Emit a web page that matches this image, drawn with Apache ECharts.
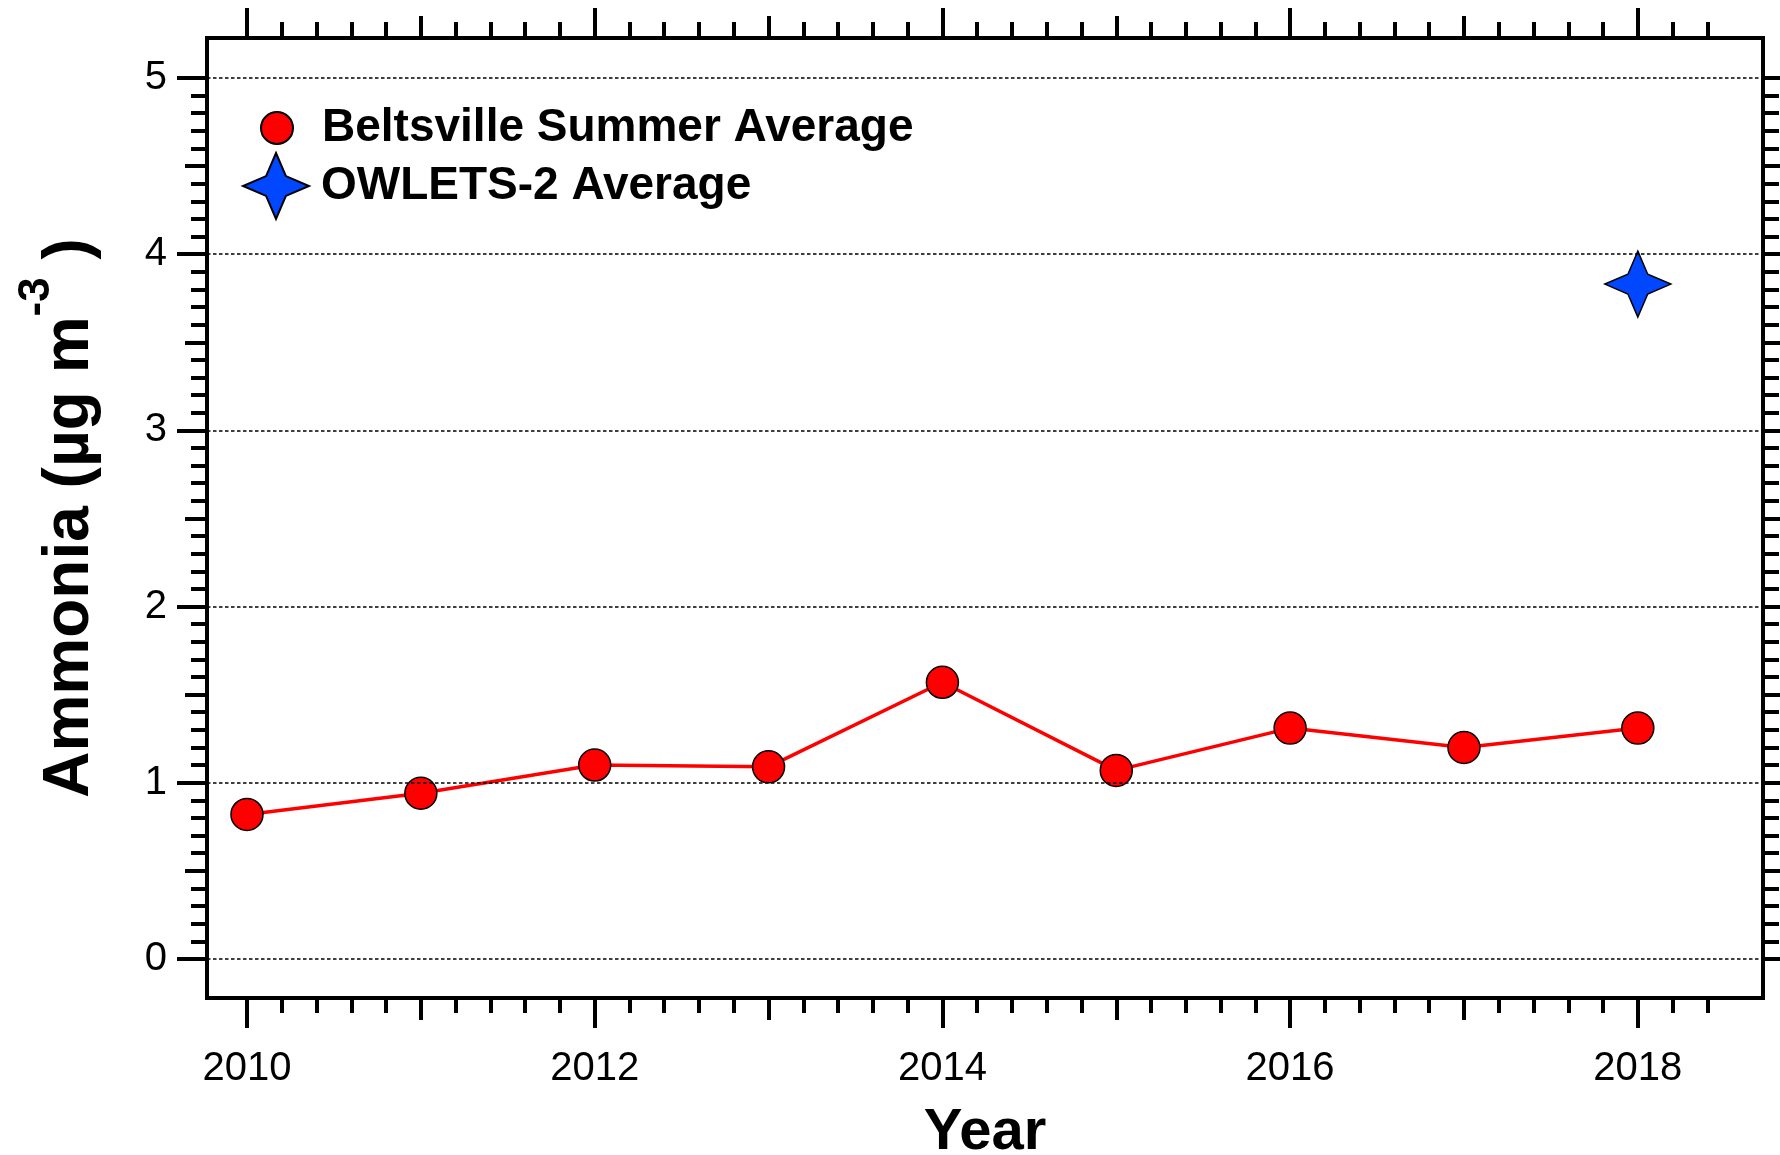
<!DOCTYPE html>
<html lang="en">
<head>
<meta charset="UTF-8">
<title>Ammonia</title>
<script src="https://cdn.jsdelivr.net/npm/echarts@6/dist/echarts.min.js"></script>
<style>
    html, body { margin: 0; padding: 0; background: #fff; }
    #chart { width: 1780px; height: 1155px; }
</style>
</head>
<body>
<div id="chart"></div>
<script>
    // values
    var years = [2010, 2011, 2012, 2013, 2014, 2015, 2016, 2017, 2018];
    var beltsville = [0.82, 0.94, 1.10, 1.09, 1.57, 1.07, 1.31, 1.20, 1.31];
    var owletsYears = [2018];
    var owlets = [3.83];

    // tick positions
    var xMajor = [2010, 2012, 2014, 2016, 2018];
    var xMid = [2011, 2013, 2015, 2017];
    var yMajor = [0, 1, 2, 3, 4, 5];
    var yMid = [0.5, 1.5, 2.5, 3.5, 4.5];
    var xMinor = [];
    for (var i = 0; i <= 42; i++) xMinor.push(+(2010 + i * 0.2).toFixed(1));
    var yMinor = [];
    for (var j = 0; j <= 50; j++) yMinor.push(+(j * 0.1).toFixed(1));

    var font = "'Liberation Sans', Arial, Helvetica, sans-serif";
    var black = '#000';
    var star = 'path://M50,0 L65,35 L100,50 L65,65 L50,100 L35,65 L0,50 L35,35 Z';

    function xAx(pos, ticks, len, main) {
        return {
            type: 'value', position: pos, min: 2009.77, max: 2018.72,
            axisLine: {show: main, onZero: false, lineStyle: {color: black, width: 4, cap: 'square'}},
            axisTick: {show: true, inside: false, length: len, customValues: ticks,
                lineStyle: {color: black, width: 4}},
            axisLabel: {show: false},
            splitLine: {show: false}
        };
    }

    function yAx(pos, ticks, len, main) {
        return {
            type: 'value', position: pos, min: -0.222, max: 5.227,
            axisLine: {show: main, onZero: false, lineStyle: {color: black, width: 4, cap: 'square'}},
            axisTick: {show: true, inside: false, length: len, customValues: ticks,
                lineStyle: {color: black, width: 4}},
            axisLabel: {show: false},
            splitLine: {show: false}
        };
    }

    var xAxes = [
        xAx('bottom', xMajor, 30, true),
        xAx('bottom', xMid, 22, false),
        xAx('bottom', xMinor, 15, false),
        xAx('top', xMajor, 30, true),
        xAx('top', xMid, 22, false),
        xAx('top', xMinor, 16, false)
    ];
    xAxes[0].axisLabel = {
        show: true, customValues: xMajor, margin: 51,
        fontSize: 40, color: black, fontFamily: font,
        formatter: function (v) { return String(v); }
    };
    xAxes[0].name = 'Year';
    xAxes[0].nameLocation = 'middle';
    xAxes[0].nameGap = 106;
    xAxes[0].nameTextStyle = {fontSize: 58, fontWeight: 'bold', color: black, fontFamily: font};

    var yAxes = [
        yAx('left', yMajor, 30, true),
        yAx('left', yMid, 22, false),
        yAx('left', yMinor, 16, false),
        yAx('right', yMajor, 30, true),
        yAx('right', yMid, 22, false),
        yAx('right', yMinor, 16, false)
    ];
    yAxes[0].axisLabel = {
        show: true, customValues: yMajor, margin: 40,
        fontSize: 40, color: black, fontFamily: font,
        formatter: function (v) { return String(v); }
    };
    yAxes[0].name = '{m|Ammonia (µg m}{s|-3}{m| )}';
    yAxes[0].nameLocation = 'middle';
    yAxes[0].nameRotate = 90;
    yAxes[0].nameGap = 105;
    yAxes[0].nameTextStyle = {
        fontSize: 64, fontWeight: 'bold', color: black, fontFamily: font,
        rich: {
            m: {fontSize: 64, fontWeight: 'bold', color: black, fontFamily: font,
                lineHeight: 64, verticalAlign: 'bottom'},
            s: {fontSize: 44, fontWeight: 'bold', color: black, fontFamily: font,
                verticalAlign: 'top', padding: [0, 0, 43, 0]}
        }
    };

    var legendText = {fontSize: 46, fontWeight: 'bold', color: black, fontFamily: font};

    var myChart = echarts.init(document.getElementById('chart'));
    var option = {
        animation: false,
        backgroundColor: '#fff',
        grid: {left: 207, right: 17, top: 38, bottom: 157, containLabel: false, outerBoundsMode: 'none'},
        legend: [
            {
                data: ['Beltsville Summer Average'], left: 260, top: 105, padding: 0,
                itemWidth: 80, itemHeight: 32, icon: 'circle', selectedMode: false,
                textStyle: legendText
            },
            {
                data: ['OWLETS-2 Average'], left: 242, top: 152, padding: 0,
                itemWidth: 80, itemHeight: 66, selectedMode: false,
                textStyle: legendText
            }
        ],
        xAxis: xAxes,
        yAxis: yAxes,
        series: [
            {
                // dotted horizontal grid lines at the major y ticks
                name: 'grid', type: 'line', data: [], z: 1, silent: true,
                markLine: {
                    silent: true, symbol: ['none', 'none'], label: {show: false},
                    lineStyle: {color: black, width: 1.5, type: [3.5, 2.5]},
                    emphasis: {disabled: true},
                    data: yMajor.map(function (v) { return {yAxis: v}; })
                }
            },
            {
                name: 'Beltsville Summer Average', type: 'line', z: 3,
                data: years.map(function (y, k) { return [y, beltsville[k]]; }),
                symbol: 'circle', symbolSize: 32, showAllSymbol: true,
                lineStyle: {color: '#ff0000', width: 3.5},
                itemStyle: {color: '#ff0000', borderColor: black, borderWidth: 1.5, opacity: 1}
            },
            {
                name: 'OWLETS-2 Average', type: 'scatter', z: 4,
                data: owletsYears.map(function (y, k) { return [y, owlets[k]]; }),
                symbol: star, symbolSize: 66,
                itemStyle: {color: '#0047ff', borderColor: black, borderWidth: 1.5, opacity: 1}
            }
        ]
    };
    myChart.setOption(option);
</script>
</body>
</html>
